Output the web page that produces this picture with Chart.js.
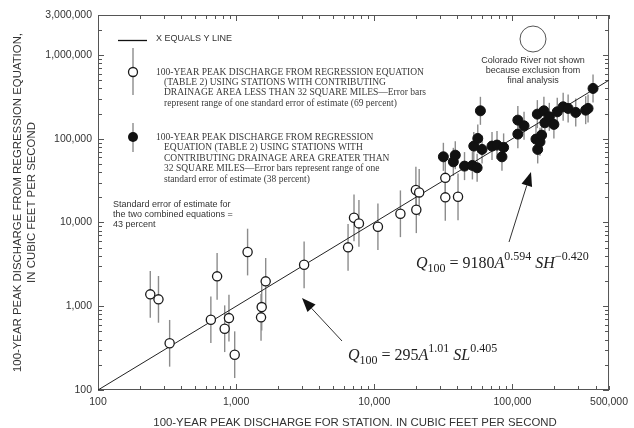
<!DOCTYPE html>
<html>
<head>
<meta charset="utf-8">
<script src="https://cdn.jsdelivr.net/npm/chart.js@4.4.1/dist/chart.umd.min.js"></script>
<style>
  html, body { margin: 0; padding: 0; background: #fff; }
  #wrap { width: 634px; height: 428px; }
</style>
</head>
<body>
<div id="wrap"><canvas id="c" width="634" height="428"></canvas></div>
<script>
// Stations with contributing drainage area < 32 square miles (open circles)
const smallStationQ    = [239, 274, 330, 656, 728, 826, 887, 976, 1210, 1514, 1531, 1636, 3104, 6457, 7130, 7740, 10620, 15450, 20140, 20000, 21130, 32650, 32650, 40360];
const smallRegressionQ = [1387, 1208, 361, 690, 2275, 539, 722, 264, 4436, 737, 977, 1982, 3126, 5048, 11380, 9750, 8890, 12700, 14190, 24380, 22850, 19950, 34100, 20270];

// Stations with contributing drainage area > 32 square miles (filled circles)
const largeStationQ    = [31620, 37330, 38560, 44980, 51300, 55500, 52490, 56100, 60240, 58610, 71120, 77300, 83950, 86300, 109400, 109400, 121300, 148000, 152300, 158200, 162600, 151400, 168900, 171700, 184800, 199500, 211000, 232800, 252900, 287100, 338800, 352500, 383000];
const largeRegressionQ = [60810, 52960, 63660, 47100, 48000, 45000, 81660, 100700, 74500, 215300, 81660, 83950, 60810, 78730, 166700, 113500, 142600, 98900, 74500, 91830, 110400, 196600, 215300, 154900, 182400, 148300, 209500, 240400, 230000, 206000, 219300, 230000, 398400];

// One standard error of estimate, as a multiplicative range on the regression value
const smallErrFactor = 1.9;
const largeErrFactor = 1.47;

// Axis labels and the x = y reference line
const xTickValues = [100, 1000, 10000, 100000, 500000];
const yTickValues = [100, 1000, 10000, 100000, 1000000, 3000000];
const oneToOneEnds = [100, 500000];

const toPoints = (xs, ys) => xs.map((x, i) => ({ x: x, y: ys[i] }));
const fmt = v => Number(v).toLocaleString('en-US');

const SANS = '"Liberation Sans", Arial, sans-serif';
const SERIF = '"Liberation Serif", "Times New Roman", serif';
const TEXT = '#333';

function drawErrorBars(ctx, xs, ys, factor, xScale, yScale) {
  ctx.save();
  ctx.strokeStyle = '#8c8c8c';
  ctx.lineWidth = 1.4;
  xs.forEach((xv, i) => {
    const px = xScale.getPixelForValue(xv);
    const y1 = yScale.getPixelForValue(ys[i] * factor);
    const y2 = yScale.getPixelForValue(ys[i] / factor);
    ctx.beginPath();
    ctx.moveTo(px, y1);
    ctx.lineTo(px, y2);
    ctx.stroke();
  });
  ctx.restore();
}

function logTicks(min, max) {
  const out = [];
  for (let e = Math.floor(Math.log10(min)); e <= Math.ceil(Math.log10(max)); e++) {
    for (let m = 1; m <= 9; m++) {
      const v = m * Math.pow(10, e);
      if (v >= min && v <= max) out.push({ v: v, major: m === 1 });
    }
  }
  return out;
}

function arrow(ctx, x0, y0, x1, y1) {
  const ang = Math.atan2(y1 - y0, x1 - x0);
  const len = 14, half = 5.5;
  const bx = x1 - len * Math.cos(ang), by = y1 - len * Math.sin(ang);
  ctx.save();
  ctx.strokeStyle = '#333';
  ctx.fillStyle = '#111';
  ctx.lineWidth = 1;
  ctx.beginPath();
  ctx.moveTo(x0, y0);
  ctx.lineTo(bx, by);
  ctx.stroke();
  ctx.beginPath();
  ctx.moveTo(x1, y1);
  ctx.lineTo(bx + half * Math.sin(ang), by - half * Math.cos(ang));
  ctx.lineTo(bx - half * Math.sin(ang), by + half * Math.cos(ang));
  ctx.closePath();
  ctx.fill();
  ctx.restore();
}

function equation(ctx, x, baseline, parts) {
  ctx.save();
  ctx.fillStyle = '#222';
  ctx.textBaseline = 'alphabetic';
  ctx.textAlign = 'left';
  parts.forEach(p => {
    ctx.font = p[1];
    ctx.fillText(p[0], x, baseline + (p[2] || 0));
    x += ctx.measureText(p[0]).width;
  });
  ctx.restore();
}

const decorPlugin = {
  id: 'decor',
  beforeDatasetsDraw(chart) {
    const { ctx, chartArea: a, scales: { x, y } } = chart;
    // error bars beneath the markers
    drawErrorBars(ctx, smallStationQ, smallRegressionQ, smallErrFactor, x, y);
    drawErrorBars(ctx, largeStationQ, largeRegressionQ, largeErrFactor, x, y);

    // frame
    ctx.save();
    ctx.strokeStyle = '#555';
    ctx.lineWidth = 1;
    ctx.strokeRect(a.left + 0.5, a.top + 0.5, a.right - a.left - 1, a.bottom - a.top - 1);
    // inward tick marks on all four sides
    ctx.beginPath();
    logTicks(x.min, x.max).forEach(t => {
      const px = Math.round(x.getPixelForValue(t.v)) + 0.5;
      const len = t.major ? 6 : 4;
      ctx.moveTo(px, a.bottom); ctx.lineTo(px, a.bottom - len);
      ctx.moveTo(px, a.top); ctx.lineTo(px, a.top + len);
    });
    logTicks(y.min, y.max).forEach(t => {
      const py = Math.round(y.getPixelForValue(t.v)) + 0.5;
      const len = t.major ? 6 : 4;
      ctx.moveTo(a.left, py); ctx.lineTo(a.left + len, py);
      ctx.moveTo(a.right, py); ctx.lineTo(a.right - len, py);
    });
    ctx.stroke();
    ctx.restore();
  },
  afterDraw(chart) {
    const { ctx, chartArea: a } = chart;
    ctx.save();
    ctx.fillStyle = TEXT;

    // axis titles
    ctx.font = '11.4px ' + SANS;
    ctx.textAlign = 'center';
    ctx.textBaseline = 'middle';
    ctx.fillText('100-YEAR PEAK DISCHARGE FOR STATION. IN CUBIC FEET PER SECOND', 355, 423);
    ctx.save();
    ctx.translate(18, (a.top + a.bottom) / 2);
    ctx.rotate(-Math.PI / 2);
    ctx.fillText('100-YEAR PEAK DISCHARGE FROM REGRESSION EQUATION,', 0, 0);
    ctx.fillText('IN CUBIC FEET PER SECOND', 0, 14);
    ctx.restore();

    // legend: x = y line
    ctx.strokeStyle = '#111';
    ctx.lineWidth = 1.3;
    ctx.beginPath();
    ctx.moveTo(118, 40.5); ctx.lineTo(147, 40.5);
    ctx.stroke();
    ctx.font = '9px ' + SANS;
    ctx.textAlign = 'left';
    ctx.fillText('X EQUALS Y LINE', 156, 38.5);

    // legend: open marker
    ctx.strokeStyle = '#8c8c8c';
    ctx.lineWidth = 1.4;
    ctx.beginPath(); ctx.moveTo(133, 48); ctx.lineTo(133, 95); ctx.stroke();
    ctx.beginPath(); ctx.arc(133, 72, 4.5, 0, Math.PI * 2);
    ctx.fillStyle = '#fff'; ctx.fill();
    ctx.strokeStyle = '#1a1a1a'; ctx.lineWidth = 1.3; ctx.stroke();

    // legend: filled marker
    ctx.strokeStyle = '#8c8c8c';
    ctx.lineWidth = 1.4;
    ctx.beginPath(); ctx.moveTo(133, 123); ctx.lineTo(133, 152); ctx.stroke();
    ctx.beginPath(); ctx.arc(133, 137, 5, 0, Math.PI * 2);
    ctx.fillStyle = '#111'; ctx.fill();

    ctx.fillStyle = '#3a3a3a';
    ctx.font = '9.5px ' + SERIF;
    const smallLines = [
      '100-YEAR PEAK DISCHARGE FROM REGRESSION EQUATION',
      '(TABLE 2) USING STATIONS WITH CONTRIBUTING',
      'DRAINAGE AREA LESS THAN 32 SQUARE MILES\u2014Error bars',
      'represent range of one standard error of estimate (69 percent)'
    ];
    smallLines.forEach((s, i) => ctx.fillText(s, i === 0 ? 156 : 164, 72 + i * 10.4));
    const largeLines = [
      '100-YEAR PEAK DISCHARGE FROM REGRESSION',
      'EQUATION (TABLE 2) USING STATIONS WITH',
      'CONTRIBUTING DRAINAGE AREA GREATER THAN',
      '32 SQUARE MILES\u2014Error bars represent range of one',
      'standard error of estimate (38 percent)'
    ];
    largeLines.forEach((s, i) => ctx.fillText(s, i === 0 ? 156 : 164, 137 + i * 10.5));

    // combined standard error note
    ctx.fillStyle = TEXT;
    ctx.font = '9px ' + SANS;
    ['Standard error of estimate for', 'the two combined equations =', '43 percent']
      .forEach((s, i) => ctx.fillText(s, 113, 205 + i * 10));

    // Colorado River note
    ctx.strokeStyle = '#555';
    ctx.lineWidth = 1;
    ctx.beginPath(); ctx.arc(533, 39, 13, 0, Math.PI * 2); ctx.stroke();
    ctx.textAlign = 'center';
    ['Colorado River not shown', 'because exclusion from', 'final analysis']
      .forEach((s, i) => ctx.fillText(s, 533, 61 + i * 10));
    ctx.restore();

    // regression equations with pointer arrows
    arrow(ctx, 342, 341, 302, 298);
    arrow(ctx, 509, 242, 531, 172);
    const big = '16px ' + SERIF, bigI = 'italic 16px ' + SERIF, sm = '12px ' + SERIF;
    equation(ctx, 348, 360, [
      ['Q', bigI], ['100', sm, 4], [' = ', big], ['295', big], ['A', bigI],
      ['1.01', sm, -8], [' ', big], ['SL', bigI], ['0.405', sm, -8]
    ]);
    equation(ctx, 416, 268, [
      ['Q', bigI], ['100', sm, 4], [' = ', big], ['9180', big], ['A', bigI],
      ['0.594', sm, -8], [' ', big], ['SH', bigI], ['\u22120.420', sm, -8]
    ]);
  }
};

const axisCommon = {
  type: 'logarithmic',
  grid: { display: false, drawTicks: false },
  border: { display: false },
  ticks: {
    callback: v => fmt(v),
    font: { family: SANS, size: 10.5 },
    color: TEXT,
    padding: 6,
    autoSkip: false,
    maxRotation: 0
  }
};

new Chart(document.getElementById('c'), {
  type: 'scatter',
  data: {
    datasets: [
      {
        type: 'line',
        data: toPoints(oneToOneEnds, oneToOneEnds),
        borderColor: '#222',
        borderWidth: 1,
        pointRadius: 0,
        order: 3
      },
      {
        data: toPoints(smallStationQ, smallRegressionQ),
        pointRadius: 4.6,
        pointBackgroundColor: '#fff',
        pointBorderColor: '#1a1a1a',
        pointBorderWidth: 1.3,
        order: 2
      },
      {
        data: toPoints(largeStationQ, largeRegressionQ),
        pointRadius: 5,
        pointBackgroundColor: '#111',
        pointBorderColor: '#111',
        pointBorderWidth: 1,
        order: 1
      }
    ]
  },
  options: {
    responsive: false,
    animation: false,
    events: [],
    layout: { padding: { top: 15, right: 21, left: 0, bottom: 0 } },
    plugins: { legend: { display: false }, tooltip: { enabled: false } },
    scales: {
      x: Object.assign({}, axisCommon, {
        min: 100, max: 500000,
        afterBuildTicks: s => { s.ticks = xTickValues.map(v => ({ value: v })); },
        afterFit: s => { s.height = 38; }
      }),
      y: Object.assign({}, axisCommon, {
        min: 100, max: 3000000,
        afterBuildTicks: s => { s.ticks = yTickValues.map(v => ({ value: v })); },
        afterFit: s => { s.width = 98; }
      })
    }
  },
  plugins: [decorPlugin]
});
</script>
</body>
</html>
